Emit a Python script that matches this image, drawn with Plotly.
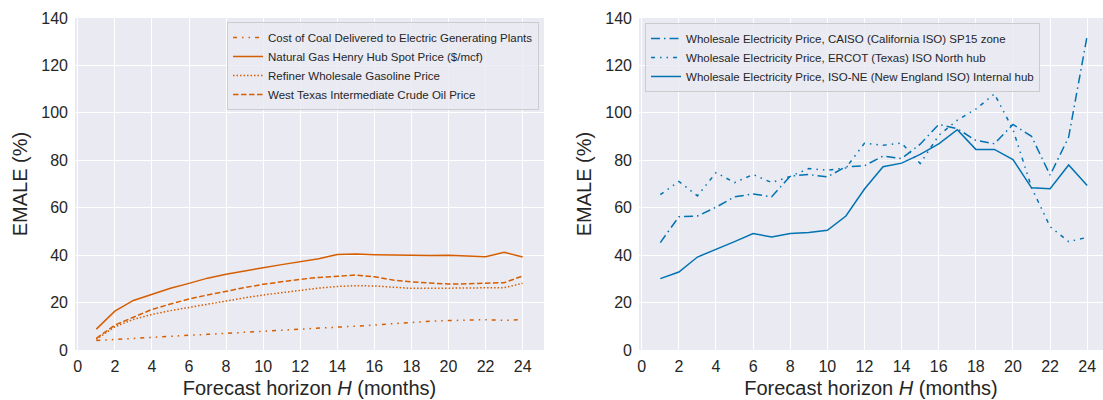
import plotly.graph_objects as go

horizon = list(range(1, 25))

coal = [4.0, 4.5, 4.9, 5.3, 5.8, 6.2, 6.6, 7.0, 7.5, 7.9, 8.3, 8.7, 9.1, 9.6, 10.1, 10.5,
        11.1, 11.7, 12.1, 12.4, 12.6, 12.8, 12.5, 12.8]
natgas = [8.8, 16.4, 20.9, 23.6, 26.0, 28.1, 30.3, 31.9, 33.4, 34.7, 36.0, 37.2, 38.5, 40.3,
          40.5, 40.2, 40.0, 40.0, 39.8, 40.0, 39.6, 39.3, 41.2, 39.2]
gasoline = [4.5, 9.8, 12.9, 15.0, 16.6, 18.0, 19.5, 20.8, 22.0, 23.2, 24.2, 25.2, 26.1, 26.8,
            27.1, 27.0, 26.4, 26.0, 26.0, 26.0, 26.1, 26.1, 26.3, 28.1]
wti = [4.9, 10.5, 13.8, 17.1, 19.4, 21.5, 23.2, 24.9, 26.3, 27.7, 28.8, 29.8, 30.6, 31.2,
       31.6, 30.9, 29.5, 28.7, 28.4, 27.8, 27.9, 28.0, 28.4, 31.2]

caiso = [45.3, 56.2, 56.5, 60.2, 64.6, 65.8, 64.6, 73.3, 74.0, 73.0, 77.3, 77.7, 81.8, 80.7,
         86.8, 95.1, 93.3, 88.4, 87.0, 95.1, 90.1, 73.7, 89.8, 132.6]
ercot = [65.5, 71.1, 65.0, 74.8, 70.6, 74.0, 70.6, 73.2, 76.5, 75.8, 76.8, 87.2, 86.3, 87.3,
         78.6, 90.5, 96.9, 101.6, 108.0, 93.0, 68.5, 52.0, 45.7, 47.5]
isone = [30.1, 32.9, 39.2, 42.3, 45.7, 49.1, 47.7, 49.1, 49.5, 50.5, 56.5, 67.9, 77.3, 78.8,
         82.5, 86.9, 92.9, 84.6, 84.6, 80.3, 68.4, 68.0, 78.0, 69.4]

left_series = [
    ("Cost of Coal Delivered to Electric Generating Plants", coal, "4px,5px,1.5px,5px,1.5px,5px"),
    ("Natural Gas Henry Hub Spot Price ($/mcf)", natgas, "solid"),
    ("Refiner Wholesale Gasoline Price", gasoline, "1.5px,2px"),
    ("West Texas Intermediate Crude Oil Price", wti, "5.5px,2.5px"),
]
right_series = [
    ("Wholesale Electricity Price, CAISO (California ISO) SP15 zone", caiso, "9px,4px,1.5px,4px"),
    ("Wholesale Electricity Price, ERCOT (Texas) ISO North hub", ercot, "4px,5px,1.5px,5px,1.5px,5px"),
    ("Wholesale Electricity Price, ISO-NE (New England ISO) Internal hub", isone, "solid"),
]

ORANGE = "#D55E00"
BLUE = "#0173B2"
TXT = "#262626"
FONT = "Liberation Sans, Arial, sans-serif"

fig = go.Figure()
for name, vals, dash in left_series:
    fig.add_trace(go.Scatter(x=horizon, y=vals, mode="lines", name=name,
                             line=dict(color=ORANGE, width=1.5, dash=dash),
                             xaxis="x", yaxis="y", legend="legend"))
for name, vals, dash in right_series:
    fig.add_trace(go.Scatter(x=horizon, y=vals, mode="lines", name=name,
                             line=dict(color=BLUE, width=1.5, dash=dash),
                             xaxis="x2", yaxis="y2", legend="legend2"))

axis_common = dict(showgrid=True, gridcolor="white", gridwidth=1.3, zeroline=False,
                   showline=False, ticks="", tickfont=dict(size=16, color=TXT, family=FONT))
xticks = list(range(0, 25, 2))
yticks = list(range(0, 141, 20))

xtitle = dict(text="Forecast horizon <i>H</i> (months)", font=dict(size=20), standoff=6)
ytitle = dict(text="EMALE (%)", font=dict(size=20), standoff=8)

fig.update_layout(
    width=1103, height=400,
    margin=dict(l=75, r=0, t=18, b=50),
    paper_bgcolor="white", plot_bgcolor="#EAEAF2",
    font=dict(family=FONT, color=TXT),
    xaxis=dict(domain=[0, 0.4562], range=[-0.15, 25.15], tickvals=xticks, ticklabelstandoff=5,
               title=xtitle, anchor="y", **axis_common),
    yaxis=dict(domain=[0, 1], range=[0, 140], tickvals=yticks, ticklabelstandoff=6,
               title=ytitle, anchor="x", **axis_common),
    xaxis2=dict(domain=[0.5486, 1], range=[-0.15, 24.85], tickvals=xticks, ticklabelstandoff=5,
                title=xtitle, anchor="y2", **axis_common),
    yaxis2=dict(domain=[0, 1], range=[0, 140], tickvals=yticks, ticklabelstandoff=6,
                title=ytitle, anchor="x2", **axis_common),
    legend=dict(x=0.4514, y=0.988, xanchor="right", yanchor="top",
                bgcolor="rgba(234,234,242,0.8)", bordercolor="#CCCCCC", borderwidth=1,
                font=dict(size=11.5, color=TXT, family=FONT)),
    legend2=dict(x=0.5545, y=0.985, xanchor="left", yanchor="top",
                 bgcolor="rgba(234,234,242,0.8)", bordercolor="#CCCCCC", borderwidth=1,
                 font=dict(size=11.5, color=TXT, family=FONT)),
)

fig.write_html("out.html")
